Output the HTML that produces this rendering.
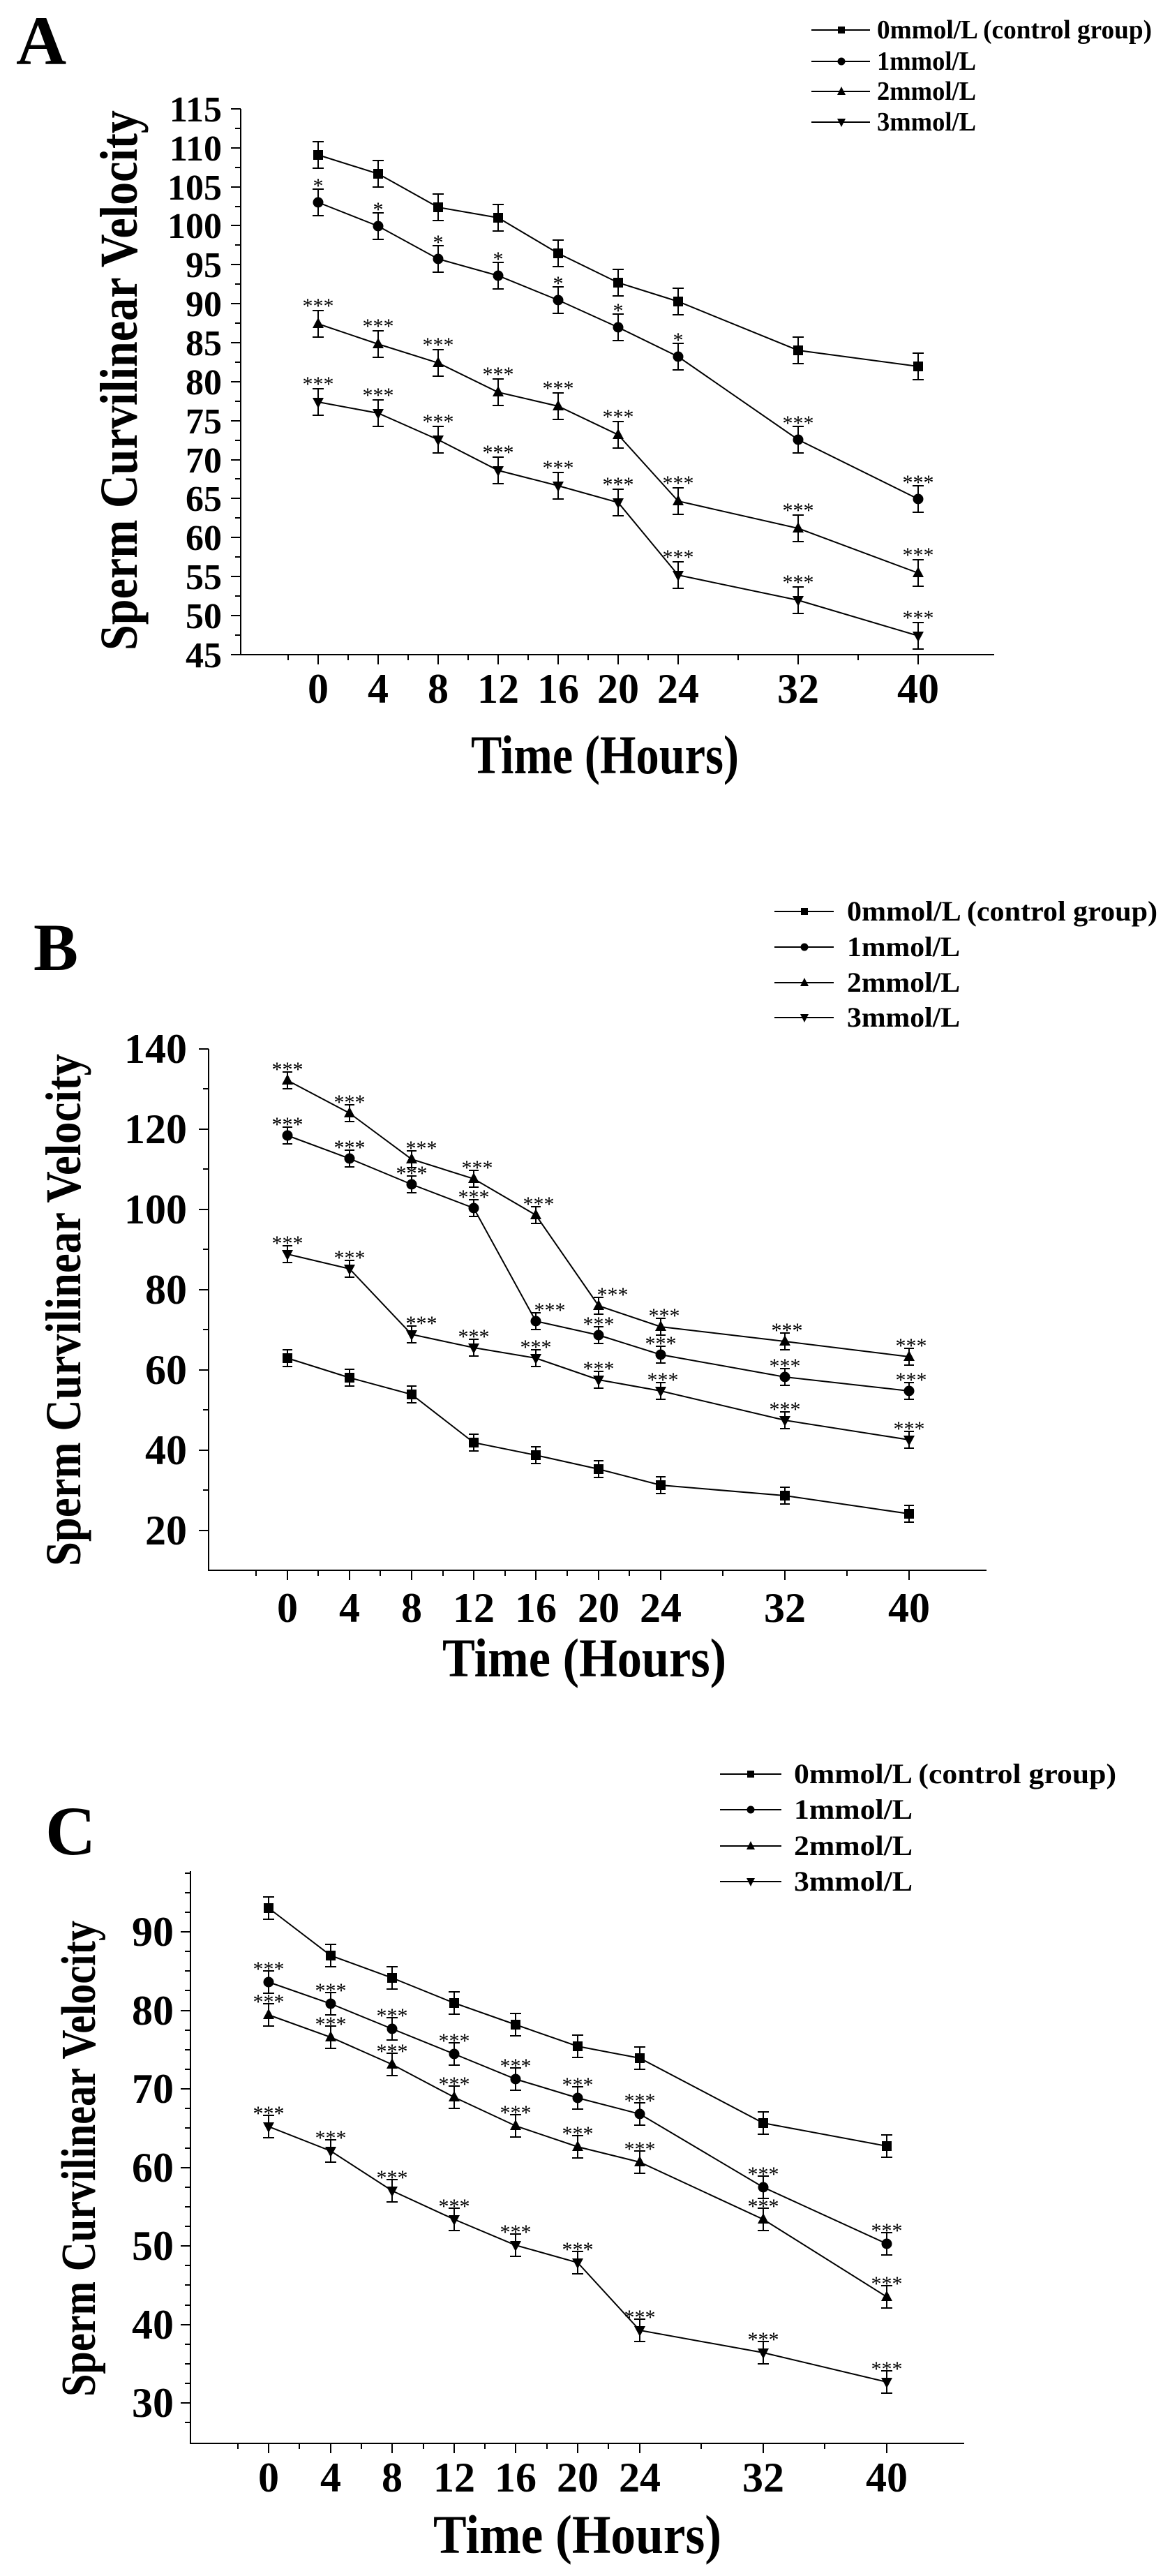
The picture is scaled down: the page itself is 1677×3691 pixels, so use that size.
<!DOCTYPE html>
<html><head><meta charset="utf-8"><style>
html,body{margin:0;padding:0;background:#fff}
svg{display:block}
text{font-family:"Liberation Serif",serif;fill:#000}
.b{font-weight:bold}
.st{font-size:30px;text-anchor:middle}
</style></head><body>
<svg width="1677" height="3691" viewBox="0 0 1677 3691" xmlns="http://www.w3.org/2000/svg">
<defs>
<path id="eA" d="M0,-19V19M-8,-19h16M-8,19h16" stroke="#000" stroke-width="2" fill="none"/>
<path id="eB" d="M0,-12V12M-7,-12h14M-7,12h14" stroke="#000" stroke-width="2" fill="none"/>
<path id="eC" d="M0,-16V16M-8,-16h16M-8,16h16" stroke="#000" stroke-width="2" fill="none"/>
<rect id="sq" x="-7" y="-7" width="14" height="14"/>
<circle id="ci" r="7.5"/>
<polygon id="tu" points="0,-9 8,6 -8,6"/>
<polygon id="td" points="0,9 8,-6 -8,-6"/>
<rect id="lsq" x="-5" y="-5" width="10" height="10"/>
<circle id="lci" r="5.5"/>
<polygon id="ltu" points="0,-7 6,5 -6,5"/>
<polygon id="ltd" points="0,7 6,-5 -6,-5"/>
</defs>

<!-- ================= PANEL A ================= -->
<text class="b" x="23" y="92" font-size="100">A</text>
<g stroke="#000" stroke-width="2" fill="none">
<path d="M345,156V938H1425"/>
<path d="M345,938h-14M345,882h-14M345,826h-14M345,770h-14M345,714h-14M345,659h-14M345,603h-14M345,547h-14M345,491h-14M345,435h-14M345,379h-14M345,323h-14M345,268h-14M345,212h-14M345,156h-14"/>
<path d="M345,910h-8M345,854h-8M345,798h-8M345,742h-8M345,686h-8M345,631h-8M345,575h-8M345,519h-8M345,463h-8M345,407h-8M345,351h-8M345,296h-8M345,240h-8M345,184h-8"/>
<path d="M456,938v14M542,938v14M628,938v14M714,938v14M800,938v14M886,938v14M972,938v14M1144,938v14M1316,938v14"/>
<path d="M413,938v8M499,938v8M585,938v8M671,938v8M757,938v8M843,938v8M929,938v8M1058,938v8M1230,938v8"/>
<polyline points="456,222 542,249 628,297 714,312 800,363 886,405 972,432 1144,502 1316,525"/>
<polyline points="456,290 542,324 628,371 714,395 800,430 886,469 972,511 1144,630 1316,715"/>
<polyline points="456,464 542,493 628,520 714,562 800,582 886,623 972,718 1144,757 1316,821"/>
<polyline points="456,576 542,592 628,630 714,674 800,696 886,720 972,824 1144,860 1316,911"/>
</g>
<g class="b" font-size="52" text-anchor="end">
<text x="318" y="956">45</text><text x="318" y="900">50</text><text x="318" y="844">55</text><text x="318" y="788">60</text><text x="318" y="732">65</text><text x="318" y="677">70</text><text x="318" y="621">75</text><text x="318" y="565">80</text><text x="318" y="509">85</text><text x="318" y="453">90</text><text x="318" y="397">95</text><text x="318" y="341">100</text><text x="318" y="286">105</text><text x="318" y="230">110</text><text x="318" y="174">115</text>
</g>
<g class="b" font-size="60" text-anchor="middle">
<text x="456" y="1007">0</text><text x="542" y="1007">4</text><text x="628" y="1007">8</text><text x="714" y="1007">12</text><text x="800" y="1007">16</text><text x="886" y="1007">20</text><text x="972" y="1007">24</text><text x="1144" y="1007">32</text><text x="1316" y="1007">40</text>
</g>
<text class="b" font-size="76" text-anchor="middle" transform="translate(196,545) rotate(-90)" textLength="774" lengthAdjust="spacingAndGlyphs">Sperm Curvilinear Velocity</text>
<text class="b" font-size="78" x="675" y="1108" textLength="384" lengthAdjust="spacingAndGlyphs">Time (Hours)</text>
<g>
<use href="#eA" x="456" y="222"/><use href="#eA" x="542" y="249"/><use href="#eA" x="628" y="297"/><use href="#eA" x="714" y="312"/><use href="#eA" x="800" y="363"/><use href="#eA" x="886" y="405"/><use href="#eA" x="972" y="432"/><use href="#eA" x="1144" y="502"/><use href="#eA" x="1316" y="525"/>
<use href="#sq" x="456" y="222"/><use href="#sq" x="542" y="249"/><use href="#sq" x="628" y="297"/><use href="#sq" x="714" y="312"/><use href="#sq" x="800" y="363"/><use href="#sq" x="886" y="405"/><use href="#sq" x="972" y="432"/><use href="#sq" x="1144" y="502"/><use href="#sq" x="1316" y="525"/>
<use href="#eA" x="456" y="290"/><use href="#eA" x="542" y="324"/><use href="#eA" x="628" y="371"/><use href="#eA" x="714" y="395"/><use href="#eA" x="800" y="430"/><use href="#eA" x="886" y="469"/><use href="#eA" x="972" y="511"/><use href="#eA" x="1144" y="630"/><use href="#eA" x="1316" y="715"/>
<use href="#ci" x="456" y="290"/><use href="#ci" x="542" y="324"/><use href="#ci" x="628" y="371"/><use href="#ci" x="714" y="395"/><use href="#ci" x="800" y="430"/><use href="#ci" x="886" y="469"/><use href="#ci" x="972" y="511"/><use href="#ci" x="1144" y="630"/><use href="#ci" x="1316" y="715"/>
<use href="#eA" x="456" y="464"/><use href="#eA" x="542" y="493"/><use href="#eA" x="628" y="520"/><use href="#eA" x="714" y="562"/><use href="#eA" x="800" y="582"/><use href="#eA" x="886" y="623"/><use href="#eA" x="972" y="718"/><use href="#eA" x="1144" y="757"/><use href="#eA" x="1316" y="821"/>
<use href="#tu" x="456" y="464"/><use href="#tu" x="542" y="493"/><use href="#tu" x="628" y="520"/><use href="#tu" x="714" y="562"/><use href="#tu" x="800" y="582"/><use href="#tu" x="886" y="623"/><use href="#tu" x="972" y="718"/><use href="#tu" x="1144" y="757"/><use href="#tu" x="1316" y="821"/>
<use href="#eA" x="456" y="576"/><use href="#eA" x="542" y="592"/><use href="#eA" x="628" y="630"/><use href="#eA" x="714" y="674"/><use href="#eA" x="800" y="696"/><use href="#eA" x="886" y="720"/><use href="#eA" x="972" y="824"/><use href="#eA" x="1144" y="860"/><use href="#eA" x="1316" y="911"/>
<use href="#td" x="456" y="576"/><use href="#td" x="542" y="592"/><use href="#td" x="628" y="630"/><use href="#td" x="714" y="674"/><use href="#td" x="800" y="696"/><use href="#td" x="886" y="720"/><use href="#td" x="972" y="824"/><use href="#td" x="1144" y="860"/><use href="#td" x="1316" y="911"/>
</g>
<g class="st">
<text x="456" y="276">*</text><text x="542" y="310">*</text><text x="628" y="357">*</text><text x="714" y="381">*</text><text x="800" y="416">*</text><text x="886" y="455">*</text><text x="972" y="497">*</text><text x="1144" y="616">***</text><text x="1316" y="701">***</text>
<text x="456" y="448">***</text><text x="542" y="477">***</text><text x="628" y="504">***</text><text x="714" y="546">***</text><text x="800" y="566">***</text><text x="886" y="607">***</text><text x="972" y="702">***</text><text x="1144" y="741">***</text><text x="1316" y="805">***</text>
<text x="456" y="560">***</text><text x="542" y="576">***</text><text x="628" y="614">***</text><text x="714" y="658">***</text><text x="800" y="680">***</text><text x="886" y="704">***</text><text x="972" y="808">***</text><text x="1144" y="844">***</text><text x="1316" y="895">***</text>
</g>
<g stroke="#000" stroke-width="2"><path d="M1163,43H1247M1163,88H1247M1163,131H1247M1163,175H1247"/></g>
<use href="#lsq" x="1206" y="43"/><use href="#lci" x="1206" y="88"/><use href="#ltu" x="1206" y="131"/><use href="#ltd" x="1206" y="175"/>
<g class="b" font-size="38">
<text x="1257" y="55" textLength="394" lengthAdjust="spacingAndGlyphs">0mmol/L (control group)</text>
<text x="1257" y="100" textLength="142" lengthAdjust="spacingAndGlyphs">1mmol/L</text>
<text x="1257" y="143" textLength="142" lengthAdjust="spacingAndGlyphs">2mmol/L</text>
<text x="1257" y="187" textLength="142" lengthAdjust="spacingAndGlyphs">3mmol/L</text>
</g>

<!-- ================= PANEL B ================= -->
<text class="b" x="48" y="1390" font-size="96">B</text>
<g stroke="#000" stroke-width="2" fill="none">
<path d="M299,1503V2250H1414"/>
<path d="M299,1503h-14M299,1618h-14M299,1733h-14M299,1848h-14M299,1963h-14M299,2078h-14M299,2193h-14"/>
<path d="M299,1560h-8M299,1675h-8M299,1790h-8M299,1905h-8M299,2020h-8M299,2135h-8"/>
<path d="M412,2250v14M501,2250v14M590,2250v14M679,2250v14M768,2250v14M858,2250v14M947,2250v14M1125,2250v14M1303,2250v14"/>
<path d="M367,2250v8M456,2250v8M545,2250v8M635,2250v8M724,2250v8M813,2250v8M902,2250v8M1036,2250v8M1214,2250v8"/>
<polyline points="412,1548 501,1595 590,1661 679,1689 768,1741 858,1871 947,1901 1125,1922 1303,1944"/>
<polyline points="412,1627 501,1660 590,1697 679,1731 768,1893 858,1913 947,1941 1125,1973 1303,1993"/>
<polyline points="412,1797 501,1818 590,1912 679,1931 768,1946 858,1977 947,1993 1125,2035 1303,2063"/>
<polyline points="412,1946 501,1974 590,1998 679,2067 768,2085 858,2105 947,2128 1125,2143 1303,2169"/>
</g>
<g class="b" font-size="60" text-anchor="end">
<text x="268" y="1523">140</text><text x="268" y="1638">120</text><text x="268" y="1753">100</text><text x="268" y="1868">80</text><text x="268" y="1983">60</text><text x="268" y="2098">40</text><text x="268" y="2213">20</text>
</g>
<g class="b" font-size="60" text-anchor="middle">
<text x="412" y="2324">0</text><text x="501" y="2324">4</text><text x="590" y="2324">8</text><text x="679" y="2324">12</text><text x="768" y="2324">16</text><text x="858" y="2324">20</text><text x="947" y="2324">24</text><text x="1125" y="2324">32</text><text x="1303" y="2324">40</text>
</g>
<text class="b" font-size="72" text-anchor="middle" transform="translate(115,1877) rotate(-90)" textLength="734" lengthAdjust="spacingAndGlyphs">Sperm Curvilinear Velocity</text>
<text class="b" font-size="78" x="634" y="2402" textLength="407" lengthAdjust="spacingAndGlyphs">Time (Hours)</text>
<g>
<use href="#eB" x="412" y="1548"/><use href="#eB" x="501" y="1595"/><use href="#eB" x="590" y="1661"/><use href="#eB" x="679" y="1689"/><use href="#eB" x="768" y="1741"/><use href="#eB" x="858" y="1871"/><use href="#eB" x="947" y="1901"/><use href="#eB" x="1125" y="1922"/><use href="#eB" x="1303" y="1944"/>
<use href="#tu" x="412" y="1548"/><use href="#tu" x="501" y="1595"/><use href="#tu" x="590" y="1661"/><use href="#tu" x="679" y="1689"/><use href="#tu" x="768" y="1741"/><use href="#tu" x="858" y="1871"/><use href="#tu" x="947" y="1901"/><use href="#tu" x="1125" y="1922"/><use href="#tu" x="1303" y="1944"/>
<use href="#eB" x="412" y="1627"/><use href="#eB" x="501" y="1660"/><use href="#eB" x="590" y="1697"/><use href="#eB" x="679" y="1731"/><use href="#eB" x="768" y="1893"/><use href="#eB" x="858" y="1913"/><use href="#eB" x="947" y="1941"/><use href="#eB" x="1125" y="1973"/><use href="#eB" x="1303" y="1993"/>
<use href="#ci" x="412" y="1627"/><use href="#ci" x="501" y="1660"/><use href="#ci" x="590" y="1697"/><use href="#ci" x="679" y="1731"/><use href="#ci" x="768" y="1893"/><use href="#ci" x="858" y="1913"/><use href="#ci" x="947" y="1941"/><use href="#ci" x="1125" y="1973"/><use href="#ci" x="1303" y="1993"/>
<use href="#eB" x="412" y="1797"/><use href="#eB" x="501" y="1818"/><use href="#eB" x="590" y="1912"/><use href="#eB" x="679" y="1931"/><use href="#eB" x="768" y="1946"/><use href="#eB" x="858" y="1977"/><use href="#eB" x="947" y="1993"/><use href="#eB" x="1125" y="2035"/><use href="#eB" x="1303" y="2063"/>
<use href="#td" x="412" y="1797"/><use href="#td" x="501" y="1818"/><use href="#td" x="590" y="1912"/><use href="#td" x="679" y="1931"/><use href="#td" x="768" y="1946"/><use href="#td" x="858" y="1977"/><use href="#td" x="947" y="1993"/><use href="#td" x="1125" y="2035"/><use href="#td" x="1303" y="2063"/>
<use href="#eB" x="412" y="1946"/><use href="#eB" x="501" y="1974"/><use href="#eB" x="590" y="1998"/><use href="#eB" x="679" y="2067"/><use href="#eB" x="768" y="2085"/><use href="#eB" x="858" y="2105"/><use href="#eB" x="947" y="2128"/><use href="#eB" x="1125" y="2143"/><use href="#eB" x="1303" y="2169"/>
<use href="#sq" x="412" y="1946"/><use href="#sq" x="501" y="1974"/><use href="#sq" x="590" y="1998"/><use href="#sq" x="679" y="2067"/><use href="#sq" x="768" y="2085"/><use href="#sq" x="858" y="2105"/><use href="#sq" x="947" y="2128"/><use href="#sq" x="1125" y="2143"/><use href="#sq" x="1303" y="2169"/>
</g>
<g class="st">
<text x="412" y="1542">***</text><text x="501" y="1589">***</text><text x="604" y="1655">***</text><text x="684" y="1683">***</text><text x="772" y="1735">***</text><text x="878" y="1865">***</text><text x="952" y="1895">***</text><text x="1128" y="1916">***</text><text x="1306" y="1938">***</text>
<text x="412" y="1621">***</text><text x="501" y="1654">***</text><text x="590" y="1691">***</text><text x="679" y="1725">***</text><text x="788" y="1887">***</text><text x="858" y="1907">***</text><text x="947" y="1935">***</text><text x="1125" y="1967">***</text><text x="1306" y="1987">***</text>
<text x="412" y="1791">***</text><text x="501" y="1812">***</text><text x="604" y="1906">***</text><text x="679" y="1925">***</text><text x="768" y="1940">***</text><text x="858" y="1971">***</text><text x="950" y="1987">***</text><text x="1125" y="2029">***</text><text x="1303" y="2057">***</text>
</g>
<g stroke="#000" stroke-width="2"><path d="M1110,1306H1195M1110,1357H1195M1110,1408H1195M1110,1458H1195"/></g>
<use href="#lsq" x="1153" y="1306"/><use href="#lci" x="1153" y="1357"/><use href="#ltu" x="1153" y="1408"/><use href="#ltd" x="1153" y="1458"/>
<g class="b" font-size="40">
<text x="1214" y="1319" textLength="445" lengthAdjust="spacingAndGlyphs">0mmol/L (control group)</text>
<text x="1214" y="1370" textLength="162" lengthAdjust="spacingAndGlyphs">1mmol/L</text>
<text x="1214" y="1421" textLength="162" lengthAdjust="spacingAndGlyphs">2mmol/L</text>
<text x="1214" y="1471" textLength="162" lengthAdjust="spacingAndGlyphs">3mmol/L</text>
</g>

<!-- ================= PANEL C ================= -->
<text class="b" x="65" y="2657" font-size="100">C</text>
<g stroke="#000" stroke-width="2" fill="none">
<path d="M273,2681V3501H1382"/>
<path d="M273,2768h-14M273,2881h-14M273,2993h-14M273,3106h-14M273,3218h-14M273,3331h-14M273,3443h-14"/>
<path d="M273,2684h-8M273,2712h-8M273,2740h-8M273,2796h-8M273,2824h-8M273,2852h-8M273,2909h-8M273,2937h-8M273,2965h-8M273,3021h-8M273,3049h-8M273,3078h-8M273,3134h-8M273,3162h-8M273,3190h-8M273,3246h-8M273,3274h-8M273,3303h-8M273,3359h-8M273,3387h-8M273,3415h-8M273,3471h-8"/>
<path d="M385,3501v14M474,3501v14M562,3501v14M651,3501v14M739,3501v14M828,3501v14M917,3501v14M1094,3501v14M1271,3501v14"/>
<path d="M341,3501v8M429,3501v8M518,3501v8M607,3501v8M695,3501v8M784,3501v8M872,3501v8M1005,3501v8M1182,3501v8"/>
<polyline points="385,2734 474,2802 562,2834 651,2870 739,2901 828,2932 917,2949 1094,3042 1271,3075"/>
<polyline points="385,2840 474,2871 562,2907 651,2943 739,2979 828,3006 917,3029 1094,3134 1271,3215"/>
<polyline points="385,2887 474,2919 562,2958 651,3005 739,3046 828,3076 917,3098 1094,3180 1271,3291"/>
<polyline points="385,3047 474,3082 562,3139 651,3180 739,3217 828,3242 917,3339 1094,3371 1271,3413"/>
</g>
<g class="b" font-size="60" text-anchor="end">
<text x="249" y="2788">90</text><text x="249" y="2901">80</text><text x="249" y="3013">70</text><text x="249" y="3126">60</text><text x="249" y="3238">50</text><text x="249" y="3351">40</text><text x="249" y="3463">30</text>
</g>
<g class="b" font-size="60" text-anchor="middle">
<text x="385" y="3570">0</text><text x="474" y="3570">4</text><text x="562" y="3570">8</text><text x="651" y="3570">12</text><text x="739" y="3570">16</text><text x="828" y="3570">20</text><text x="917" y="3570">24</text><text x="1094" y="3570">32</text><text x="1271" y="3570">40</text>
</g>
<text class="b" font-size="70" text-anchor="middle" transform="translate(136,3093) rotate(-90)" textLength="682" lengthAdjust="spacingAndGlyphs">Sperm Curvilinear Velocity</text>
<text class="b" font-size="78" x="621" y="3658" textLength="413" lengthAdjust="spacingAndGlyphs">Time (Hours)</text>
<g>
<use href="#eC" x="385" y="2734"/><use href="#eC" x="474" y="2802"/><use href="#eC" x="562" y="2834"/><use href="#eC" x="651" y="2870"/><use href="#eC" x="739" y="2901"/><use href="#eC" x="828" y="2932"/><use href="#eC" x="917" y="2949"/><use href="#eC" x="1094" y="3042"/><use href="#eC" x="1271" y="3075"/>
<use href="#sq" x="385" y="2734"/><use href="#sq" x="474" y="2802"/><use href="#sq" x="562" y="2834"/><use href="#sq" x="651" y="2870"/><use href="#sq" x="739" y="2901"/><use href="#sq" x="828" y="2932"/><use href="#sq" x="917" y="2949"/><use href="#sq" x="1094" y="3042"/><use href="#sq" x="1271" y="3075"/>
<use href="#eC" x="385" y="2840"/><use href="#eC" x="474" y="2871"/><use href="#eC" x="562" y="2907"/><use href="#eC" x="651" y="2943"/><use href="#eC" x="739" y="2979"/><use href="#eC" x="828" y="3006"/><use href="#eC" x="917" y="3029"/><use href="#eC" x="1094" y="3134"/><use href="#eC" x="1271" y="3215"/>
<use href="#ci" x="385" y="2840"/><use href="#ci" x="474" y="2871"/><use href="#ci" x="562" y="2907"/><use href="#ci" x="651" y="2943"/><use href="#ci" x="739" y="2979"/><use href="#ci" x="828" y="3006"/><use href="#ci" x="917" y="3029"/><use href="#ci" x="1094" y="3134"/><use href="#ci" x="1271" y="3215"/>
<use href="#eC" x="385" y="2887"/><use href="#eC" x="474" y="2919"/><use href="#eC" x="562" y="2958"/><use href="#eC" x="651" y="3005"/><use href="#eC" x="739" y="3046"/><use href="#eC" x="828" y="3076"/><use href="#eC" x="917" y="3098"/><use href="#eC" x="1094" y="3180"/><use href="#eC" x="1271" y="3291"/>
<use href="#tu" x="385" y="2887"/><use href="#tu" x="474" y="2919"/><use href="#tu" x="562" y="2958"/><use href="#tu" x="651" y="3005"/><use href="#tu" x="739" y="3046"/><use href="#tu" x="828" y="3076"/><use href="#tu" x="917" y="3098"/><use href="#tu" x="1094" y="3180"/><use href="#tu" x="1271" y="3291"/>
<use href="#eC" x="385" y="3047"/><use href="#eC" x="474" y="3082"/><use href="#eC" x="562" y="3139"/><use href="#eC" x="651" y="3180"/><use href="#eC" x="739" y="3217"/><use href="#eC" x="828" y="3242"/><use href="#eC" x="917" y="3339"/><use href="#eC" x="1094" y="3371"/><use href="#eC" x="1271" y="3413"/>
<use href="#td" x="385" y="3047"/><use href="#td" x="474" y="3082"/><use href="#td" x="562" y="3139"/><use href="#td" x="651" y="3180"/><use href="#td" x="739" y="3217"/><use href="#td" x="828" y="3242"/><use href="#td" x="917" y="3339"/><use href="#td" x="1094" y="3371"/><use href="#td" x="1271" y="3413"/>
</g>
<g class="st">
<text x="385" y="2831">***</text><text x="474" y="2862">***</text><text x="562" y="2898">***</text><text x="651" y="2934">***</text><text x="739" y="2970">***</text><text x="828" y="2997">***</text><text x="917" y="3020">***</text><text x="1094" y="3125">***</text><text x="1271" y="3206">***</text>
<text x="385" y="2878">***</text><text x="474" y="2910">***</text><text x="562" y="2949">***</text><text x="651" y="2996">***</text><text x="739" y="3037">***</text><text x="828" y="3067">***</text><text x="917" y="3089">***</text><text x="1094" y="3171">***</text><text x="1271" y="3282">***</text>
<text x="385" y="3038">***</text><text x="474" y="3073">***</text><text x="562" y="3130">***</text><text x="651" y="3171">***</text><text x="739" y="3208">***</text><text x="828" y="3233">***</text><text x="917" y="3330">***</text><text x="1094" y="3362">***</text><text x="1271" y="3404">***</text>
</g>
<g stroke="#000" stroke-width="2"><path d="M1032,2542H1120M1032,2593H1120M1032,2645H1120M1032,2696H1120"/></g>
<use href="#lsq" x="1076" y="2542"/><use href="#lci" x="1076" y="2593"/><use href="#ltu" x="1076" y="2645"/><use href="#ltd" x="1076" y="2696"/>
<g class="b" font-size="40">
<text x="1138" y="2555" textLength="462" lengthAdjust="spacingAndGlyphs">0mmol/L (control group)</text>
<text x="1138" y="2606" textLength="170" lengthAdjust="spacingAndGlyphs">1mmol/L</text>
<text x="1138" y="2658" textLength="170" lengthAdjust="spacingAndGlyphs">2mmol/L</text>
<text x="1138" y="2709" textLength="170" lengthAdjust="spacingAndGlyphs">3mmol/L</text>
</g>
</svg>
</body></html>
